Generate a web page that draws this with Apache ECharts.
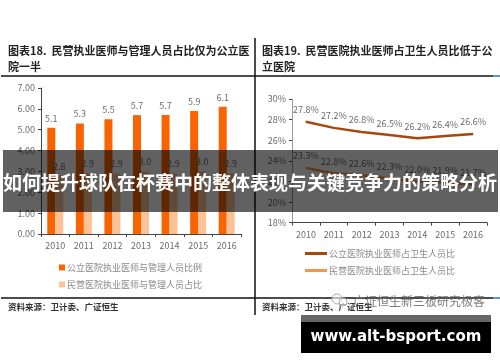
<!DOCTYPE html>
<html><head><meta charset="utf-8">
<style>html,body{margin:0;padding:0;background:#fff}#c{width:500px;height:362px}</style>
<script src="https://cdn.jsdelivr.net/npm/echarts@6/dist/echarts.min.js"></script>
</head><body><div id="c"></div>
<script>
const years = ['2010','2011','2012','2013','2014','2015','2016'];
const publicRatio = [5.1,5.3,5.5,5.7,5.7,5.9,6.1];
const privateRatio = [2.8,2.9,2.9,3.0,2.9,3.0,2.9];
const publicShare = [27.8,27.2,26.8,26.5,26.2,26.4,26.6];
const privateShare = [23.3,22.8,22.6,22.3,22.0,21.9,21.7];
const barNames = ['公立医院执业医师与管理人员比例','民营医院执业医师与管理人员占比'];
const lineNames = ['公立医院执业医师占卫生人员比','民营医院执业医师占卫生人员比'];
const F = '"Noto Sans CJK SC","Noto Sans",sans-serif';
const G = '#6b6b6b';
const t = (x,y,text,size,fill,weight,z) => ({type:'text',x,y,z:z||5,style:{text,fontSize:size,fontFamily:F,fontWeight:weight||'normal',fill,textVerticalAlign:'middle'}});
const ln = (x1,y1,x2,y2,w,c) => ({type:'line',z:4,shape:{x1,y1,x2,y2},style:{stroke:c||'#111',lineWidth:w}});
const chart = echarts.init(document.getElementById('c'),null,{renderer:'canvas'});
const xAxisBase = {type:'category',data:years,axisTick:{show:true,alignWithLabel:false,length:3,lineStyle:{color:'#444'}},
  axisLine:{lineStyle:{color:'#444',width:1}},axisLabel:{color:G,fontSize:9,fontFamily:F,margin:7}};
const yBase = {type:'value',splitLine:{show:false},axisLine:{show:true,lineStyle:{color:'#444'}},axisTick:{show:true,length:3,lineStyle:{color:'#444'}},
  axisLabel:{color:G,fontSize:9,fontFamily:F,margin:6}};
const dataLabel = (fmt,d) => ({show:true,position:'top',color:G,fontSize:9,fontFamily:F,formatter:fmt,distance:d});
chart.setOption({
  animation:false,
  backgroundColor:'#fff',
  grid:[{left:41,top:88,width:200,height:146},{left:292,top:99,width:195,height:123.7}],
  xAxis:[{...xAxisBase,gridIndex:0},{...xAxisBase,gridIndex:1}],
  yAxis:[
    {...yBase,gridIndex:0,min:0,max:7,interval:1,axisLabel:{...yBase.axisLabel,formatter:v=>v.toFixed(2)}},
    {...yBase,gridIndex:1,min:18,max:30,interval:2,axisLine:{show:true,lineStyle:{color:'#999'}},axisLabel:{...yBase.axisLabel,formatter:'{value}%'}}
  ],
  legend:[
    {data:barNames,orient:'vertical',left:59,top:263,itemWidth:6,itemHeight:6,itemGap:8,icon:'rect',textStyle:{color:'#888',fontSize:9,fontFamily:F,padding:[0,0,0,-3]},padding:0},
    {data:lineNames,orient:'vertical',left:305,top:249,itemWidth:22,itemHeight:3,itemGap:8,icon:'rect',textStyle:{color:'#888',fontSize:9,fontFamily:F,padding:[0,0,0,-3]},padding:0}
  ],
  series:[
    {name:barNames[0],type:'bar',xAxisIndex:0,yAxisIndex:0,data:publicRatio,barWidth:8,barGap:'0%',itemStyle:{color:'#F96400'},label:dataLabel(p=>p.value.toFixed(1),5)},
    {name:barNames[1],type:'bar',xAxisIndex:0,yAxisIndex:0,data:privateRatio,barWidth:8,itemStyle:{color:'#FBC295'},label:dataLabel(p=>p.value.toFixed(1),5)},
    {name:lineNames[0],type:'line',xAxisIndex:1,yAxisIndex:1,data:publicShare,symbol:'circle',symbolSize:1,showSymbol:true,showAllSymbol:true,lineStyle:{color:'#A5480F',width:2.5},itemStyle:{color:'#A5480F'},label:dataLabel(p=>p.value.toFixed(1)+'%',7)},
    {name:lineNames[1],type:'line',xAxisIndex:1,yAxisIndex:1,data:privateShare,symbol:'circle',symbolSize:1,showSymbol:true,showAllSymbol:true,lineStyle:{color:'#F79646',width:2.5},itemStyle:{color:'#F79646'},label:dataLabel(p=>p.value.toFixed(1)+'%',7)}
  ],
  graphic:{elements:[
    ln(1,76,493,76,1.5), ln(493,76,500,76,1.5,'#2E75B6'),
    ln(1,298,493,298,1.5), ln(493,298,500,298,1.5,'#2E75B6'),
    ln(255,38,255,315,1.5),
    t(8,51,'图表18.  民营执业医师与管理人员占比仅为公立医',11,'#222','bold'),
    t(8,67,'院一半',11,'#222','bold'),
    t(262,51,'图表19.  民营医院执业医师占卫生人员比低于公',11,'#222','bold'),
    t(262,67,'立医院',11,'#222','bold'),
    t(8,307,'资料来源：卫计委、广证恒生',8.5,'#333','bold'),
    t(262,307,'资料来源：卫计委、广证恒生',8.5,'#333','bold'),
    t(353,301,'广证恒生新三板研究极客',12,'rgba(110,110,110,0.9)','normal',6),
    {type:'circle',z:6,shape:{cx:337,cy:299,r:5},style:{fill:'rgba(255,255,255,0.6)',stroke:'#aaa',lineWidth:1}},
    {type:'circle',z:6,shape:{cx:343,cy:302,r:4},style:{fill:'rgba(255,255,255,0.6)',stroke:'#aaa',lineWidth:1}},
    {type:'rect',z:20,shape:{x:3,y:150,width:495,height:62},style:{fill:'rgba(0,0,0,0.62)'}},
    {type:'text',z:21,x:250,y:183,style:{text:'如何提升球队在杯赛中的整体表现与关键竞争力的策略分析',fontSize:19,fontFamily:F,fontWeight:'bold',fill:'#fff',textAlign:'center',textVerticalAlign:'middle'}},
    {type:'rect',z:20,shape:{x:301,y:315,width:190,height:7},style:{fill:'#666'}},
    {type:'rect',z:20,shape:{x:301,y:322,width:190,height:31},style:{fill:'#000'}},
    {type:'text',z:21,x:396,y:337,style:{text:'www.alt-bsport.com',fontSize:15,fontFamily:'"DejaVu Sans",sans-serif',fontWeight:'bold',fill:'#fff',textAlign:'center',textVerticalAlign:'middle'}}
  ]}
});
</script></body></html>
